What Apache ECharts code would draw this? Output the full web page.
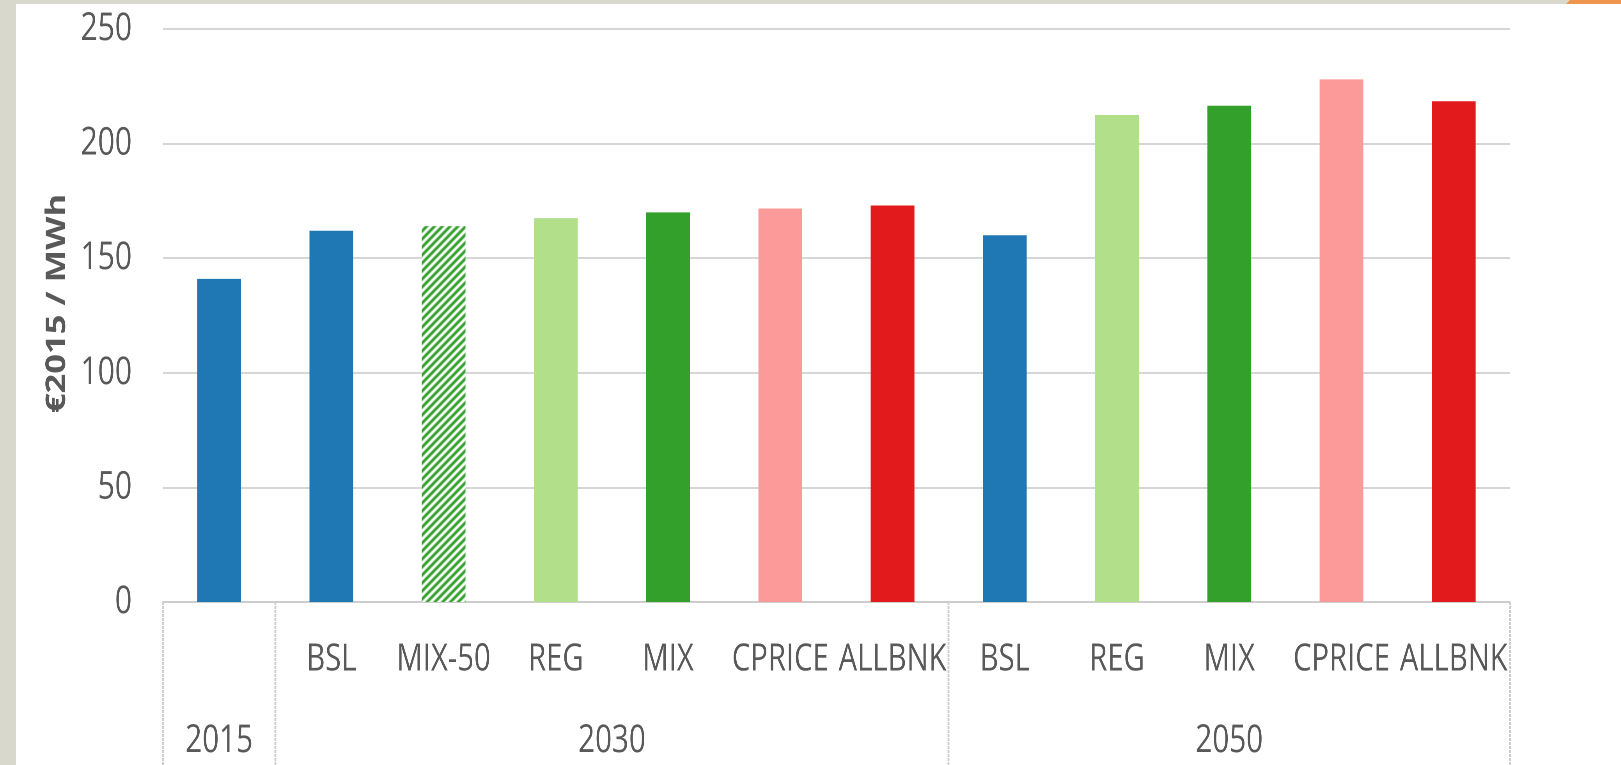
<!DOCTYPE html>
<html>
<head>
<meta charset="utf-8">
<script src="https://cdn.jsdelivr.net/npm/echarts@6/dist/echarts.min.js"></script>
<style>
  html, body { margin: 0; padding: 0; background: #ffffff; overflow: hidden; }
  #frame { position: relative; width: 1621px; height: 765px; overflow: hidden; background: #ffffff; }
  #chart { position: absolute; left: 0; top: 0; height: 765px; transform-origin: 0 0; }
  .strip { position: absolute; background: #d8d8cc; z-index: 5; }
  #orange { position: absolute; right: 0; top: 0; width: 55px; height: 4px; background: #f0954f; z-index: 6;
            clip-path: polygon(4px 0, 100% 0, 100% 100%, 0 100%); }
</style>
</head>
<body>
<div id="frame">
  <div id="chart"></div>
  <div class="strip" style="left:0;top:0;width:16px;height:765px;"></div>
  <div class="strip" style="left:0;top:0;width:1570px;height:4px;"></div>
  <div id="orange"></div>
</div>
<script>
// ---- data ----
const categories = ['', 'BSL', 'MIX-50', 'REG', 'MIX', 'CPRICE', 'ALLBNK', 'BSL', 'REG', 'MIX', 'CPRICE', 'ALLBNK'];
const periods = ['2015', '2030', '2050'];
const periodSizes = [1, 6, 5];
const costs = [141, 162, 164, 167.5, 170, 171.7, 173, 160, 212.5, 216.5, 228, 218.5];
const yTicks = [0, 50, 100, 150, 200, 250];
const yTitle = '€2015 / MWh';

// ---- styles / layout ----
// The original chart is a horizontally condensed office chart; emulate by drawing
// on a wider canvas and compressing it horizontally.
const K = 0.78;
const W = 1621 / K;
const FONT = "'Open Sans', 'Noto Sans', sans-serif";
const TXT = '#595959';
const GRID_COL = '#d6d6d6';
const BOX_COL = '#cdcdcd';

const el = document.getElementById('chart');
el.style.width = W + 'px';
el.style.transform = 'scaleX(' + K + ')';

function stripePattern() {
  const c = document.createElement('canvas');
  c.width = 10; c.height = 8;
  const g = c.getContext('2d');
  g.fillStyle = '#ffffff';
  g.fillRect(0, 0, 10, 8);
  g.strokeStyle = '#33a02c';
  g.lineWidth = 3.2;
  g.beginPath();
  g.moveTo(-2.5, 10); g.lineTo(12.5, -2);
  g.moveTo(-12.5, 10); g.lineTo(2.5, -2);
  g.moveTo(7.5, 10); g.lineTo(22.5, -2);
  g.stroke();
  return c;
}
const scenarioColor = {
  '': '#1f78b4',
  'BSL': '#1f78b4',
  'MIX-50': { image: stripePattern(), repeat: 'repeat' },
  'REG': '#b2df8a',
  'MIX': '#33a02c',
  'CPRICE': '#fb9a99',
  'ALLBNK': '#e31a1c'
};

// group boundaries and centres derived from period sizes
const bounds = [0];
periodSizes.forEach(s => bounds.push(bounds[bounds.length - 1] + s));
const centres = periodSizes.map((s, i) => bounds[i] + s / 2);

const chart = echarts.init(el, null, { devicePixelRatio: 2 });
chart.setOption({
  animation: false,
  backgroundColor: 'transparent',
  grid: { left: 163 / K, right: 111 / K, top: 29, bottom: 163, containLabel: false },
  xAxis: [
    {
      type: 'category',
      data: categories,
      axisLine: { show: true, lineStyle: { color: BOX_COL, width: 2 } },
      axisTick: { show: false },
      axisLabel: {
        interval: 0, color: TXT, fontFamily: FONT, fontSize: 37.5,
        margin: 58, verticalAlign: 'middle', lineHeight: 40
      }
    },
    {
      type: 'value',
      min: 0, max: categories.length,
      position: 'bottom',
      axisLine: { show: false },
      splitLine: { show: false },
      axisTick: {
        show: true, customValues: bounds, length: 170,
        lineStyle: { color: BOX_COL, width: 2.4, type: [3, 1] }
      },
      axisLabel: {
        customValues: centres,
        formatter: v => { const i = centres.findIndex(c => Math.abs(c - v) < 1e-6); return i >= 0 ? periods[i] : ''; },
        color: TXT, fontFamily: FONT, fontSize: 38,
        margin: 139, verticalAlign: 'middle', lineHeight: 40
      }
    }
  ],
  yAxis: {
    type: 'value',
    min: yTicks[0], max: yTicks[yTicks.length - 1], interval: yTicks[1] - yTicks[0],
    axisLine: { show: false },
    axisTick: { show: false },
    splitLine: { lineStyle: { color: GRID_COL, width: 2 } },
    axisLabel: { color: TXT, fontFamily: FONT, fontSize: 38.5, margin: 31 / K },
    name: yTitle,
    nameLocation: 'middle',
    nameRotate: 90,
    nameGap: 118,
    nameTextStyle: { color: TXT, fontFamily: FONT, fontWeight: 'bold', fontSize: 34.5, padding: [0, 0, 0, 24] }
  },
  series: [{
    type: 'bar',
    xAxisIndex: 0,
    barWidth: '39%',
    data: costs.map((v, i) => ({ value: v, itemStyle: { color: scenarioColor[categories[i]] } }))
  }]
});
</script>
</body>
</html>
